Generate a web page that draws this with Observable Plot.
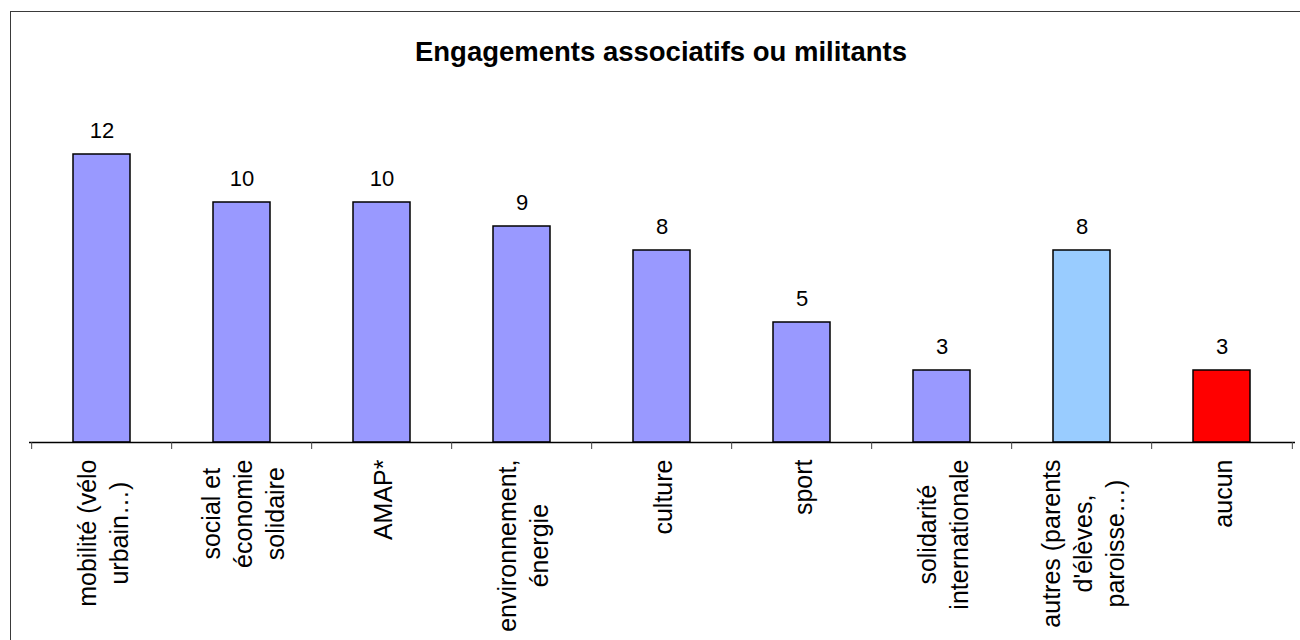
<!DOCTYPE html>
<html>
<head>
<meta charset="utf-8">
<script src="https://cdn.jsdelivr.net/npm/d3@7"></script>
<script src="https://cdn.jsdelivr.net/npm/@observablehq/plot@0.6"></script>
<style>
  html, body { margin: 0; padding: 0; background: #fff; overflow: hidden; }
  #wrap { position: relative; width: 1300px; height: 640px; font-family: "Liberation Sans", Arial, sans-serif; }
  #frame { position: absolute; left: 10px; top: 11px; width: 1300px; height: 640px; border-left: 1.5px solid #3a3a3a; border-top: 1.5px solid #3a3a3a; }
  #title { position: absolute; left: 661px; top: 38px; transform: translateX(-50%); white-space: nowrap; font-size: 27.5px; font-weight: bold; color: #000; line-height: 27.5px; }
  #chart { position: absolute; left: 0; top: 0; }
</style>
</head>
<body>
<div id="wrap">
  <div id="frame"></div>
  <div id="title">Engagements associatifs ou militants</div>
  <div id="chart"></div>
</div>
<script>
const categories = ["mobilité", "social", "AMAP", "environnement", "culture", "sport", "solidarité", "autres", "aucun"];
const tickLabels = [
  "mobilité (vélo\nurbain…)",
  "social et\néconomie\nsolidaire",
  "AMAP*",
  "environnement,\nénergie",
  "culture",
  "sport",
  "solidarité\ninternationale",
  "autres (parents\nd'élèves,\nparoisse…)",
  "aucun"
];
const values = [12, 10, 10, 9, 8, 5, 3, 8, 3];
const barColors = ["#9999FF", "#9999FF", "#9999FF", "#9999FF", "#9999FF", "#9999FF", "#9999FF", "#99CCFF", "#FF0000"];

const data = categories.map((c, i) => ({cat: c, value: values[i], color: barColors[i], label: tickLabels[i]}));
const labelOf = new Map(data.map(d => [d.cat, d.label]));

const W = 1300, H = 640, mL = 29, mR = 5, mT = 106, mB = 198;
const step = (W - mL - mR) / categories.length;

const chart = Plot.plot({
  width: W,
  height: H,
  marginTop: mT,
  marginBottom: mB,
  marginLeft: mL,
  marginRight: mR,
  style: {fontFamily: "'Liberation Sans', Arial, sans-serif", background: "transparent", color: "#000"},
  x: {domain: categories, paddingInner: 0.59, paddingOuter: 0.295, axis: null},
  y: {domain: [0, 14], axis: null},
  color: {type: "identity"},
  marks: [
    Plot.barY(data, {x: "cat", y: "value", fill: "color", stroke: "#000", strokeWidth: 1.5}),
    Plot.text(data, {x: "cat", y: "value", text: d => String(d.value), dy: -17, lineAnchor: "bottom", fontSize: 22, fill: "#000"}),
    Plot.ruleY([0], {stroke: "#000", strokeWidth: 1.5}),
    Plot.axisX({tickSize: 7, tickFormat: () => "", dx: -step / 2, stroke: "#444", label: null}),
    Plot.axisX({ticks: [categories[categories.length - 1]], tickSize: 7, tickFormat: () => "", dx: step / 2, stroke: "#444", label: null}),
    Plot.axisX({tickSize: 0, tickPadding: 17, tickRotate: -90, fontSize: 25, lineHeight: 1.28, tickFormat: d => labelOf.get(d), fill: "#000", label: null})
  ]
});
document.getElementById("chart").appendChild(chart);

// center the lines of multi-line rotated labels on their longest line
chart.querySelectorAll('g[aria-label="x-axis tick label"] text').forEach(t => {
  const spans = t.querySelectorAll("tspan");
  if (spans.length < 2) return;
  let maxW = 0;
  spans.forEach(s => { maxW = Math.max(maxW, s.getComputedTextLength()); });
  t.setAttribute("text-anchor", "middle");
  spans.forEach(s => s.setAttribute("x", -maxW / 2));
});
</script>
</body>
</html>
